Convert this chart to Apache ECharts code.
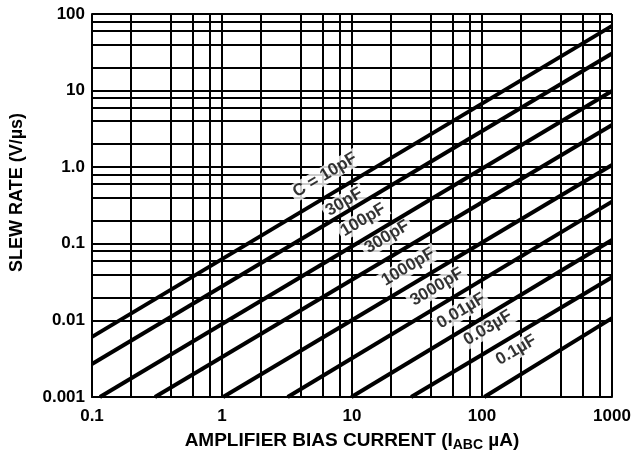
<!DOCTYPE html>
<html><head><meta charset="utf-8">
<script src="https://cdn.jsdelivr.net/npm/echarts@6/dist/echarts.min.js"></script>
<style>html,body{margin:0;padding:0;background:#fff}#c{width:635px;height:455px}</style>
</head><body><div id="c"></div>
<script>
// Capacitor curves: each drawn from its start point to its end point
const capLabels = ['C = 10pF','30pF','100pF','300pF','1000pF','3000pF','0.01\u00b5F','0.03\u00b5F','0.1\u00b5F'];
const startI  = [0.1,    0.1,    0.115, 0.305, 1.02,  3.2,   9.9,   28.5,  104];
const startSR = [0.0061, 0.0027, 0.001, 0.001, 0.001, 0.001, 0.001, 0.001, 0.001];
const endI    = [1000, 1000, 1000, 1000, 1000, 1000, 1000, 1000, 1000];
const endSR   = [70, 30.5, 9.9, 3.56, 1.07, 0.355, 0.112, 0.0366, 0.0107];
// label anchor points (data coordinates)
const labelI  = [6.2, 8.7, 12.2, 18.6, 27, 45, 69, 111, 183];
const labelSR = [0.79, 0.35, 0.205, 0.123, 0.0498, 0.0273, 0.0133, 0.008, 0.0041];
// axis ticks
const xTickLabels = ['0.1','1','10','100','1000'];
const yTickLabels = ['0.001','0.01','0.1','1.0','10','100'];
const minorX = [0.2,0.4,0.6,0.8, 2,4,6,8, 20,40,60,80, 200,400,600,800];
const minorY = [0.002,0.004,0.006,0.008, 0.02,0.04,0.06,0.08, 0.2,0.4,0.6,0.8, 2,4,6,8, 20,40,60,80];

const FONT = "'Liberation Sans', Arial, Helvetica, sans-serif";
const chart = echarts.init(document.getElementById('c'), null, {renderer:'canvas'});

const series = [];
// minor grid lines
series.push({
  type:'line', data:[], z:1, silent:true,
  markLine:{
    z:1, silent:true, symbol:['none','none'], animation:false,
    label:{show:false},
    lineStyle:{color:'#000', width:2, type:'solid'},
    emphasis:{disabled:true},
    data: minorX.map(v=>({xAxis:v})).concat(minorY.map(v=>({yAxis:v})))
  }
});
// labels
series.push({
  type:'scatter', z:3, symbolSize:0, silent:true, animation:false,
  itemStyle:{color:'rgba(0,0,0,0)'},
  data: labelI.map((x,i)=>({value:[x,labelSR[i]], name:capLabels[i]})),
  label:{
    show:true, position:'inside', rotate:31,
    formatter:p=>p.name,
    color:'#000', fontWeight:'bold', fontSize:17, fontFamily:FONT,
    backgroundColor:'#fff', padding:[1,3,0,3]
  }
});
// curves
for (let i=0;i<capLabels.length;i++){
  series.push({
    type:'line', z:4, silent:true, animation:false, symbol:'none',
    lineStyle:{color:'#000', width:4},
    data:[[startI[i],startSR[i]],[endI[i],endSR[i]]]
  });
}

chart.setOption({
  animation:false,
  backgroundColor:'#fff',
  grid:{left:92, right:23, top:14, bottom:58, containLabel:false, outerBoundsMode:'none'},
  xAxis:{
    type:'log', logBase:10, min:0.1, max:1000,
    axisLine:{show:true, lineStyle:{color:'#000', width:2}},
    axisTick:{show:false},
    splitLine:{show:true, lineStyle:{color:'#000', width:2}},
    axisLabel:{margin:11, color:'#000', fontWeight:'bold', fontSize:17, fontFamily:FONT,
      formatter:v=>xTickLabels[Math.round(Math.log10(v))+1]},
    name:'AMPLIFIER BIAS CURRENT (I{sub|ABC} \u00b5A)',
    nameLocation:'middle', nameGap:33,
    nameTextStyle:{color:'#000', fontWeight:'bold', fontSize:19, fontFamily:FONT,
      rich:{sub:{color:'#000', fontWeight:'bold', fontSize:14, fontFamily:FONT, padding:[8,0,0,0]}}}
  },
  yAxis:{
    type:'log', logBase:10, min:0.001, max:100,
    axisLine:{show:true, lineStyle:{color:'#000', width:2}},
    axisTick:{show:false},
    splitLine:{show:true, lineStyle:{color:'#000', width:2}},
    axisLabel:{margin:7, color:'#000', fontWeight:'bold', fontSize:17, fontFamily:FONT,
      formatter:v=>yTickLabels[Math.round(Math.log10(v))+3]},
    name:'SLEW RATE (V/\u00b5s)',
    nameLocation:'middle', nameGap:66, nameRotate:90,
    nameTextStyle:{color:'#000', fontWeight:'bold', fontSize:18, fontFamily:FONT, padding:[0,0,0,26]}
  },
  series
});
</script></body></html>
